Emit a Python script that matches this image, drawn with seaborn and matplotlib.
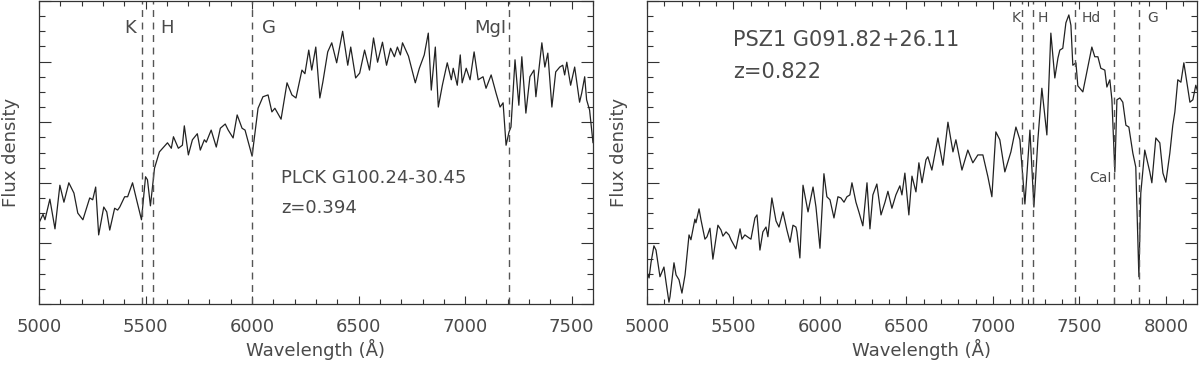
import numpy as np
import pandas as pd
import matplotlib
matplotlib.use("Agg")
import matplotlib.pyplot as plt
from matplotlib.ticker import MultipleLocator
import seaborn as sns

# PLCK G100.24-30.45 (z=0.394), flux in arbitrary units
wave_plck = [5000, 5019, 5028, 5051, 5075, 5098, 5117, 5140, 5164, 5182, 5206, 5238, 5252, 5266,
             5280, 5304, 5318, 5332, 5355, 5369, 5379, 5402, 5416, 5439, 5458, 5481, 5500, 5509,
             5523, 5542, 5565, 5603, 5621, 5631, 5654, 5673, 5682, 5701, 5720, 5743, 5757, 5776,
             5785, 5808, 5832, 5851, 5874, 5888, 5911, 5930, 5953, 5967, 6000, 6028, 6051, 6075,
             6093, 6107, 6136, 6164, 6187, 6206, 6234, 6248, 6266, 6280, 6299, 6318, 6332, 6355,
             6374, 6397, 6425, 6449, 6463, 6486, 6505, 6528, 6551, 6570, 6589, 6612, 6631, 6650,
             6668, 6682, 6696, 6706, 6734, 6766, 6785, 6808, 6827, 6841, 6860, 6874, 6893, 6916,
             6935, 6944, 6963, 6977, 6986, 7005, 7023, 7042, 7061, 7084, 7098, 7122, 7145, 7164,
             7178, 7192, 7206, 7215, 7234, 7252, 7266, 7285, 7304, 7323, 7332, 7360, 7374, 7388,
             7407, 7425, 7444, 7458, 7467, 7477, 7495, 7514, 7537, 7547, 7561, 7570, 7584, 7600]
flux_plck = [1.34, 1.48, 1.39, 1.73, 1.24, 1.96, 1.68, 2.00, 1.83, 1.50, 1.39, 1.75, 1.72, 1.93,
             1.14, 1.60, 1.52, 1.22, 1.58, 1.55, 1.60, 1.77, 1.77, 2.00, 1.72, 1.39, 2.10, 2.05,
             1.62, 2.24, 2.51, 2.66, 2.57, 2.76, 2.57, 2.62, 2.94, 2.46, 2.71, 2.81, 2.54, 2.71,
             2.67, 2.87, 2.59, 2.90, 2.97, 2.87, 2.74, 3.12, 2.90, 2.87, 2.44, 3.23, 3.42, 3.45,
             3.17, 3.23, 3.05, 3.65, 3.45, 3.40, 3.86, 3.80, 4.19, 3.86, 4.24, 3.40, 3.66, 4.16,
             4.31, 3.98, 4.50, 3.94, 4.24, 3.73, 3.81, 4.19, 3.86, 4.39, 3.99, 4.32, 3.94, 4.22,
             4.08, 4.24, 4.11, 4.31, 4.09, 3.65, 3.89, 4.11, 4.47, 3.53, 4.24, 3.25, 3.61, 3.98,
             3.70, 3.89, 3.61, 4.11, 3.65, 3.89, 3.70, 4.16, 3.70, 3.75, 3.56, 3.78, 3.48, 3.25,
             3.32, 2.62, 2.84, 2.92, 4.03, 3.28, 4.08, 3.15, 3.75, 3.86, 3.42, 4.31, 3.91, 4.14,
             3.25, 3.83, 3.91, 3.94, 3.78, 3.99, 3.61, 3.91, 3.33, 3.48, 3.75, 3.37, 3.20, 2.66]

# PSZ1 G091.82+26.11 (z=0.822)
wave_psz = [5000, 5012, 5023, 5040, 5052, 5075, 5098, 5110, 5127, 5133, 5156, 5168, 5185, 5202,
            5220, 5243, 5254, 5277, 5283, 5301, 5312, 5335, 5347, 5364, 5381, 5410, 5428, 5439,
            5457, 5474, 5486, 5514, 5538, 5549, 5566, 5590, 5601, 5624, 5636, 5653, 5670, 5688,
            5699, 5722, 5746, 5763, 5786, 5809, 5827, 5844, 5861, 5867, 5884, 5902, 5931, 5960,
            5977, 6000, 6023, 6040, 6058, 6081, 6104, 6121, 6139, 6156, 6173, 6185, 6208, 6225,
            6248, 6272, 6289, 6306, 6329, 6353, 6376, 6393, 6416, 6439, 6462, 6474, 6491, 6514,
            6532, 6555, 6572, 6590, 6613, 6624, 6647, 6682, 6711, 6740, 6769, 6786, 6821, 6855,
            6884, 6913, 6942, 6971, 6994, 7017, 7040, 7069, 7104, 7133, 7156, 7185, 7214, 7237,
            7260, 7283, 7312, 7335, 7358, 7376, 7387, 7404, 7422, 7439, 7451, 7462, 7480, 7491,
            7520, 7543, 7572, 7589, 7607, 7624, 7647, 7659, 7676, 7688, 7705, 7717, 7734, 7751,
            7769, 7786, 7809, 7826, 7844, 7855, 7878, 7907, 7919, 7942, 7965, 7983, 8000, 8023,
            8040, 8052, 8069, 8087, 8104, 8121, 8139, 8156, 8173, 8185]
flux_psz = [0.53, 0.43, 0.68, 0.96, 0.89, 0.45, 0.61, 0.36, 0.03, 0.12, 0.68, 0.48, 0.40, 0.18,
            0.48, 1.14, 1.06, 1.40, 1.34, 1.57, 1.39, 1.07, 1.11, 1.25, 0.74, 1.30, 1.22, 1.12,
            1.19, 1.14, 1.06, 0.91, 1.24, 1.07, 1.14, 1.09, 1.07, 1.42, 1.47, 0.89, 1.19, 1.27,
            1.11, 1.75, 1.37, 1.27, 1.52, 1.22, 1.02, 1.30, 1.27, 1.19, 0.76, 1.96, 1.52, 1.93,
            1.60, 0.92, 2.15, 1.77, 1.72, 1.42, 1.77, 1.75, 1.68, 1.77, 1.80, 2.00, 1.68, 1.52,
            1.29, 2.00, 1.24, 1.80, 1.98, 1.47, 1.68, 1.86, 1.58, 1.80, 1.95, 1.80, 2.16, 1.47,
            2.11, 1.85, 2.33, 2.00, 2.38, 2.43, 2.21, 2.74, 2.29, 3.00, 2.51, 2.71, 2.21, 2.54,
            2.33, 2.46, 2.46, 2.10, 1.77, 2.84, 2.71, 2.18, 2.51, 2.92, 2.71, 1.65, 2.87, 1.60,
            2.71, 3.56, 2.79, 4.47, 3.73, 4.06, 4.19, 4.22, 4.64, 4.77, 4.60, 3.94, 3.98, 3.60,
            3.50, 3.83, 4.24, 4.08, 4.08, 3.89, 3.86, 3.58, 3.70, 3.37, 2.18, 3.37, 3.40, 3.33,
            2.95, 2.92, 2.49, 2.26, 0.45, 1.83, 2.54, 2.18, 2.00, 2.74, 2.66, 2.16, 2.01, 2.49,
            2.95, 3.17, 3.70, 3.66, 3.98, 3.66, 3.33, 3.37, 3.61, 3.50]

# spectral features: observed wavelengths
lines_plck = [5484, 5533, 6000, 7205]
names_plck = ["K", "H", "G", "MgI"]
lines_psz = [7168, 7231, 7474, 7702, 7842]
names_psz = ["K", "H", "Hd", "CaI", "G"]

sns.set_style("ticks")
plt.rcParams['font.family'] = ['DejaVu Sans']
txt = "#4a4a4a"

fig = plt.figure(figsize=(12, 3.65), dpi=100)
ax1 = fig.add_axes([39/1200, 1 - 304/365, 554/1200, 303/365])
ax2 = fig.add_axes([647/1200, 1 - 304/365, 550/1200, 303/365])

df1 = pd.DataFrame({"wave": wave_plck, "flux": flux_plck})
df2 = pd.DataFrame({"wave": wave_psz, "flux": flux_psz})
sns.lineplot(data=df1, x="wave", y="flux", ax=ax1, color="#222222", linewidth=0.9)
sns.lineplot(data=df2, x="wave", y="flux", ax=ax2, color="#222222", linewidth=0.9)

ax1.set_xlim(5000, 7600)
ax2.set_xlim(5000, 8180)

for ax in (ax1, ax2):
    ax.set_ylim(0, 5)
    ax.xaxis.set_major_locator(MultipleLocator(500))
    ax.xaxis.set_minor_locator(MultipleLocator(100))
    ax.yaxis.set_major_locator(MultipleLocator(1))
    ax.yaxis.set_minor_locator(MultipleLocator(0.25))
    ax.tick_params(which="both", direction="in", top=True, right=True, color="#333333", width=0.8)
    ax.tick_params(axis="x", which="major", length=6, labelsize=13, labelcolor=txt, pad=10)
    ax.tick_params(axis="x", which="minor", length=3.5)
    ax.tick_params(axis="y", which="major", length=8.5, labelleft=False)
    ax.tick_params(axis="y", which="minor", length=4.5)
    for s in ax.spines.values():
        s.set_color("#333333")
        s.set_linewidth(0.9)
    ax.set_xlabel("Wavelength (Å)", fontsize=13, color=txt, labelpad=2)
    ax.set_ylabel("Flux density", fontsize=13, color=txt, labelpad=10)

for w in lines_plck:
    ax1.axvline(w, color="#555555", linestyle=(0, (5, 4)), linewidth=1)
for w in lines_psz:
    ax2.axvline(w, color="#555555", linestyle=(0, (5, 4)), linewidth=1)

# line labels
ax1.text(5430, 4.55, names_plck[0], fontsize=13, color=txt, ha="center", va="center")
ax1.text(5600, 4.55, names_plck[1], fontsize=13, color=txt, ha="center", va="center")
ax1.text(6080, 4.55, names_plck[2], fontsize=13, color=txt, ha="center", va="center")
ax1.text(7120, 4.55, names_plck[3], fontsize=13, color=txt, ha="center", va="center")
ax1.text(6135, 2.08, "PLCK G100.24-30.45", fontsize=13, color=txt, ha="left", va="center")
ax1.text(6135, 1.58, "z=0.394", fontsize=13, color=txt, ha="left", va="center")

ax2.text(7135, 4.72, names_psz[0], fontsize=10, color=txt, ha="center", va="center")
ax2.text(7290, 4.72, names_psz[1], fontsize=10, color=txt, ha="center", va="center")
ax2.text(7570, 4.72, names_psz[2], fontsize=10, color=txt, ha="center", va="center")
ax2.text(7620, 2.08, names_psz[3], fontsize=10, color=txt, ha="center", va="center")
ax2.text(7925, 4.72, names_psz[4], fontsize=10, color=txt, ha="center", va="center")
ax2.text(5500, 4.35, "PSZ1 G091.82+26.11", fontsize=15, color=txt, ha="left", va="center")
ax2.text(5500, 3.83, "z=0.822", fontsize=15, color=txt, ha="left", va="center")

fig.savefig("out.png", dpi=100)
